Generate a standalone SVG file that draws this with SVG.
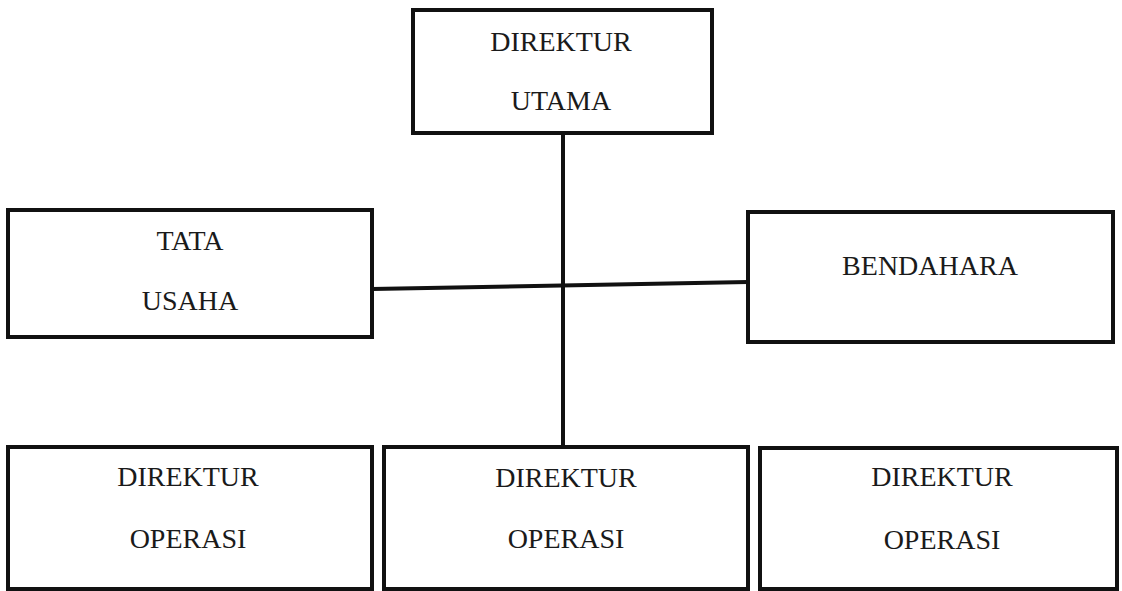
<svg xmlns="http://www.w3.org/2000/svg" width="1122" height="591" viewBox="0 0 1122 591">
<style>
.box{fill:#fff;stroke:#111;stroke-width:4}
.t{font-family:"Liberation Serif","Times New Roman",serif;font-size:28px;fill:#1a1a1a;text-anchor:middle}
.c{stroke:#111;stroke-width:4;fill:none}
</style>
<rect width="1122" height="591" fill="#fff"/>
<g id="connectors">
<line class="c" x1="563" y1="133" x2="563" y2="447"/>
<line class="c" x1="372" y1="289" x2="748" y2="282"/>
</g>
<g id="direktur-utama">
<rect class="box" x="413" y="10" width="299" height="123"/>
<text class="t" x="561" y="51">DIREKTUR</text>
<text class="t" x="561" y="110">UTAMA</text>
</g>
<g id="tata-usaha">
<rect class="box" x="8" y="210" width="364" height="127"/>
<text class="t" x="190" y="250">TATA</text>
<text class="t" x="190" y="310">USAHA</text>
</g>
<g id="bendahara">
<rect class="box" x="748" y="212" width="365" height="130"/>
<text class="t" x="930" y="275">BENDAHARA</text>
</g>
<g id="direktur-operasi-1">
<rect class="box" x="8" y="447" width="364" height="142"/>
<text class="t" x="188" y="486">DIREKTUR</text>
<text class="t" x="188" y="548">OPERASI</text>
</g>
<g id="direktur-operasi-2">
<rect class="box" x="384" y="447" width="364" height="142"/>
<text class="t" x="566" y="487">DIREKTUR</text>
<text class="t" x="566" y="548">OPERASI</text>
</g>
<g id="direktur-operasi-3">
<rect class="box" x="760" y="448" width="357" height="141"/>
<text class="t" x="942" y="486">DIREKTUR</text>
<text class="t" x="942" y="549">OPERASI</text>
</g>
</svg>
